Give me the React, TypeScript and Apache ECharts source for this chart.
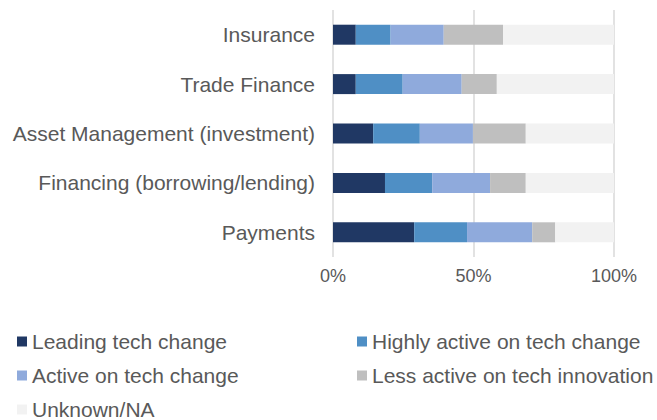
import React, { useEffect, useRef } from "react";
import * as echarts from "echarts";

const categories = [
  "Insurance",
  "Trade Finance",
  "Asset Management (investment)",
  "Financing (borrowing/lending)",
  "Payments",
];
const seriesNames = [
  "Leading tech change",
  "Highly active on tech change",
  "Active on tech change",
  "Less active on tech innovation",
  "Unknown/NA",
];
const leading = [8.1, 8.1, 14.3, 18.5, 28.9];
const highlyActive = [12.4, 16.7, 16.6, 16.8, 18.8];
const active = [18.9, 21.0, 18.9, 20.6, 23.2];
const lessActive = [21.1, 12.5, 18.8, 12.7, 8.2];
const unknown = [39.5, 41.7, 31.4, 31.4, 20.9];
const xTicks = [0, 50, 100];

const colors = ["#203864", "#4f8fc5", "#8faadc", "#bfbfbf", "#f2f2f2"];
const FONT = "'Liberation Sans', Arial, Helvetica, sans-serif";

export default function App() {
  const ref = useRef<HTMLDivElement>(null);
  useEffect(() => {
    if (!ref.current) return;
    const chart = echarts.init(ref.current, undefined, { renderer: "svg" });
    const values = [leading, highlyActive, active, lessActive, unknown];
    const legendPos = [
      { left: 17, top: 331 },
      { left: 357, top: 331 },
      { left: 17, top: 365 },
      { left: 357, top: 365 },
      { left: 17, top: 399 },
    ];
    chart.setOption({
      animation: false,
      textStyle: { fontFamily: FONT },
      grid: { left: 333, right: 43, top: 10, bottom: 163, containLabel: false },
      xAxis: {
        type: "value",
        min: xTicks[0],
        max: xTicks[xTicks.length - 1],
        interval: 50,
        axisLine: { show: false },
        axisTick: { show: false },
        axisLabel: {
          formatter: "{value}%",
          color: "#595959",
          fontSize: 18,
          fontFamily: FONT,
          margin: 10,
        },
        splitLine: { show: true, lineStyle: { color: "#d9d9d9", width: 1.5 } },
      },
      yAxis: {
        type: "category",
        data: categories,
        inverse: true,
        axisLine: { show: false },
        axisTick: { show: false },
        axisLabel: {
          color: "#595959",
          fontSize: 21,
          fontFamily: FONT,
          margin: 18,
        },
      },
      legend: seriesNames.map((name, i) => ({
        data: [name],
        left: legendPos[i].left,
        top: legendPos[i].top,
        padding: 0,
        icon: "rect",
        itemWidth: 10,
        itemHeight: 10,
        textStyle: { color: "#595959", fontSize: 21, fontFamily: FONT },
      })),
      series: seriesNames.map((name, i) => ({
        name,
        type: "bar",
        stack: "total",
        data: values[i],
        barWidth: 20,
        itemStyle: { color: colors[i] },
      })),
    });
    return () => chart.dispose();
  }, []);
  return (
    <div
      ref={ref}
      style={{ position: "absolute", left: 0, top: 0, width: 657, height: 420 }}
    />
  );
}
